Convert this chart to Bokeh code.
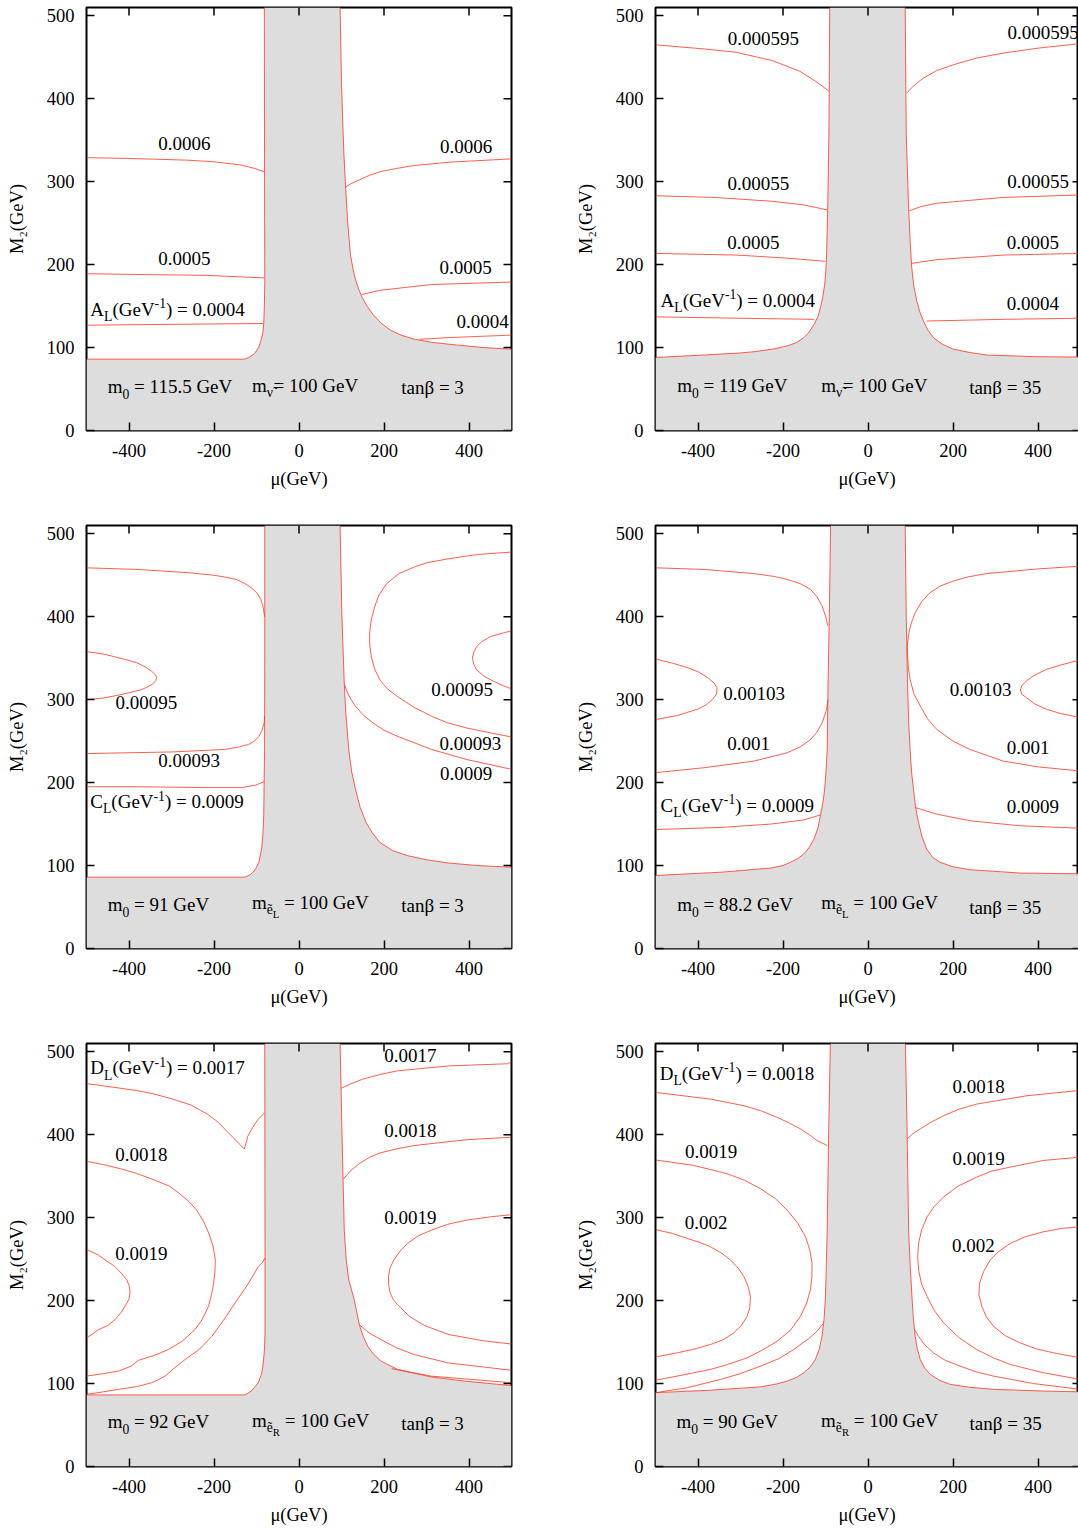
from bokeh.plotting import figure
from bokeh.layouts import column, row
from bokeh.models import Range1d, FixedTicker
from bokeh.core.properties import value
from bokeh.embed import file_html
from bokeh.resources import INLINE

# ---------------- data ----------------
X_TICKS = [-400, -200, 0, 200, 400]
Y_TICKS = [0, 100, 200, 300, 400, 500]
X_TICK_LABELS = ["-400", "-200", "0", "200", "400"]
X_LABEL = "μ(GeV)"
Y_LABEL = "M₂(GeV)"

# Panel A_L, tanb=3
AL3_edge_left = [(-500, 86), (-129, 86), (-118, 88), (-105, 92.5), (-95, 100), (-89.5, 108.5), (-85, 118),
                 (-83, 128.5), (-81.5, 150), (-80.5, 180), (-81, 300), (-81.6, 510)]
AL3_edge_right = [(96.7, 510), (98.5, 460), (100, 420), (102.8, 373), (105.5, 335), (109, 300), (114, 255),
                  (121, 212), (127, 195), (133, 182), (140, 171), (148, 161), (160, 150), (174, 140),
                  (192, 130), (215, 121), (240, 115), (271.5, 110), (310, 106.5), (353, 104), (434, 100),
                  (500, 98)]
AL3_curves = [
    [(-500, 329), (-403, 328), (-265, 326), (-200, 324), (-135, 320), (-105, 316), (-82, 312)],
    [(109, 293), (120, 297), (141.5, 302), (165, 307.5), (190, 312), (230, 316), (271.5, 319.5),
     (353, 323.5), (500, 327.5)],
    [(-500, 189), (-216, 187), (-82, 184)],
    [(148, 164), (190, 169), (312, 176), (500, 179)],
    [(-500, 127), (-297.5, 128), (-84.5, 129)],
    [(284, 110), (353, 112), (500, 115)],
]
AL3_labels = [("0.0006", -270, 343.5), ("0.0006", 393.5, 339.5), ("0.0005", -270, 204),
              ("0.0005", 392, 194), ("0.0004", 432, 129)]
AL3_key = ("A", "0.0004", -491, 143)
AL3_info = ("115.5", "ν", "3", [(-450, 50), (-110.6, 51), (240.6, 49)])

# Panel A_L, tanb=35
AL35_edge_left = [(-500, 88), (-385, 91), (-300, 93.5), (-268, 95), (-220, 98.5), (-190, 102), (-168, 106),
                  (-151, 112), (-138, 119), (-127, 128), (-118, 137), (-112, 148), (-106, 162), (-102, 176),
                  (-99.5, 190), (-98, 204), (-96, 240), (-94.5, 276), (-92, 357), (-90, 510)]
AL35_edge_right = [(87.5, 510), (90, 357), (95, 276), (99, 230), (103, 196), (108, 173), (115, 156),
                   (122, 143), (130.5, 132), (141, 121), (154, 112), (175, 104), (201, 98), (240, 94),
                   (279, 91), (396, 89), (500, 88.5)]
AL35_curves = [
    [(-500, 465), (-385, 460), (-310, 456), (-268, 451), (-225, 446), (-190, 439), (-160, 433),
     (-135, 425), (-112, 417), (-92, 409)],
    [(91.4, 407), (108, 416), (130.5, 425), (162, 434), (201, 441), (255, 449), (318, 455), (400, 461),
     (500, 466.5)],
    [(-500, 283), (-362, 281), (-229, 276.5), (-151, 272), (-96, 266)],
    [(97.7, 265), (125, 270), (162, 274), (318, 281), (500, 284)],
    [(-500, 213.5), (-307, 211.5), (-182, 207.5), (-100, 204)],
    [(103, 201.5), (162, 206), (318, 211.5), (500, 213.5)],
    [(-500, 137), (-307, 135.4), (-127, 134)],
    [(138, 132), (318, 134), (500, 135.4)],
]
AL35_labels = [("0.000595", -246, 469.5), ("0.000595", 412, 477), ("0.00055", -258, 294.5),
               ("0.00055", 400, 297), ("0.0005", -269.5, 224), ("0.0005", 388, 224), ("0.0004", 388, 150)]
AL35_key = ("A", "0.0004", -488, 154)
AL35_info = ("119", "ν", "35", [(-449, 51), (-110, 51), (238, 49)])

# Panel C_L, tanb=3
CL3_edge_left = [(-500, 86), (-127, 86), (-115, 89), (-108, 92), (-102, 96), (-94, 105), (-88, 120),
                 (-85, 137), (-83, 160), (-81, 240), (-80.5, 360), (-80.5, 510)]
CL3_edge_right = [(96.7, 510), (101, 400), (106.5, 320), (110, 285), (117, 240), (124, 213), (133, 192),
                  (144, 170), (158, 152), (173, 139), (190, 128), (220, 118), (255, 112), (300, 107),
                  (353, 103), (420, 100), (500, 98)]
CL3_curves = [
    [(-500, 459), (-379, 457), (-257, 453), (-200, 450), (-175.6, 448), (-148, 445), (-127, 440),
     (-110, 434), (-98, 428), (-90, 421), (-84.5, 412), (-81, 400)],
    [(-81, 280), (-82, 272), (-87, 263), (-94, 256), (-105, 250), (-119, 246), (-145, 242.5),
     (-175.6, 240), (-297.5, 237), (-500, 235)],
    [(-500, 358), (-460, 355), (-436, 352), (-405, 348), (-379, 344), (-360, 339), (-346, 334),
     (-338, 330), (-335, 327), (-337, 323), (-344, 319), (-358, 315), (-371, 312), (-395, 309),
     (-419.5, 306), (-460, 302), (-500, 300)],
    [(-500, 195), (-379, 195), (-216, 194), (-135, 194), (-102, 197), (-82, 201)],
    [(500, 478), (420, 475), (353, 470), (300, 465), (271.5, 460), (235, 452), (206.5, 440), (188, 426),
     (178, 412), (170, 396), (166, 380), (166.5, 366), (170, 352), (178, 337), (190, 324), (208, 313),
     (231, 304), (270, 291), (312, 280), (350, 272), (393.5, 266), (450, 260), (500, 255)],
    [(500, 383), (470, 379), (450, 376), (430, 370), (418, 364), (411, 357), (408, 350), (411, 343),
     (418, 336), (436, 328), (458.5, 322), (480, 317), (500, 313)],
    [(107, 318), (118, 304), (133, 292), (152, 281), (174, 272), (200, 263), (231, 256), (312, 240),
     (393.5, 228), (500, 216)],
]
CL3_labels = [("0.00095", -359, 294), ("0.00093", -258.5, 224), ("0.00095", 384, 309),
              ("0.00093", 403, 244), ("0.0009", 393.5, 208)]
CL3_key = ("C", "0.0009", -491, 174)
CL3_info = ("91", "eL", "3", [(-450, 50), (-110.6, 53), (240.6, 49)])

# Panel C_L, tanb=35
CL35_edge_left = [(-500, 88), (-346, 92), (-229, 97), (-200, 100), (-182, 104), (-165, 108.5), (-151, 114),
                  (-138, 122), (-127, 132), (-118, 145), (-112, 160), (-106, 176), (-102, 192),
                  (-98.5, 215), (-96, 240), (-94, 320), (-91, 400), (-88, 510)]
CL35_edge_right = [(87.5, 510), (90, 400), (93, 320), (96, 270), (99, 240), (102.5, 213), (107, 192),
                   (112, 170), (119, 152), (127, 135), (138, 120), (152, 110), (169.5, 104), (200, 98.5),
                   (240, 95), (357, 91), (500, 90)]
CL35_curves = [
    [(-500, 459), (-385, 457), (-268, 452), (-220, 448.5), (-190, 445), (-160, 440), (-135, 433),
     (-120, 424), (-108, 413), (-100, 401), (-94.5, 389)],
    [(-94, 300), (-98, 287), (-108, 272), (-120, 261), (-135, 252), (-160, 243), (-190, 236),
     (-268, 226), (-385, 218), (-500, 212)],
    [(-500, 349), (-460, 344), (-424, 338.5), (-397, 333), (-377, 326.5), (-362, 320), (-355.5, 314.5),
     (-356, 307), (-365.6, 300.5), (-380, 294), (-401, 288.5), (-448, 281), (-500, 276)],
    [(-500, 143.4), (-346, 146), (-229, 150), (-151, 155), (-112, 161)],
    [(500, 461), (396, 457.5), (279, 452), (235, 448), (201, 443), (170, 437), (146, 429), (126, 418),
     (111, 405), (101, 391), (95, 377), (92.5, 365), (93, 353), (95, 338), (99, 324.5), (108, 307),
     (123, 292.5), (140, 277), (162, 264), (200, 250), (240, 240), (318, 226), (400, 219), (500, 214)],
    [(500, 348), (455, 342), (419.5, 336.5), (390, 329), (372.6, 322.5), (362, 317), (358.6, 311.7),
     (362, 306.5), (372.6, 302.5), (392, 295), (419.5, 288.5), (455, 283), (500, 278.5)],
    [(111, 170), (162, 162), (240, 154), (357, 148), (500, 145)],
]
CL35_labels = [("0.00103", -268, 304.5), ("0.001", -281, 244), ("0.00103", 265, 309),
               ("0.001", 376.5, 239), ("0.0009", 388, 168)]
CL35_key = ("C", "0.0009", -488, 170)
CL35_info = ("88.2", "eL", "35", [(-449, 50), (-110, 53), (238, 47)])

# Panel D_L, tanb=3
DL3_edge_left = [(-500, 86.3), (-127, 86.3), (-112, 91), (-95.8, 101), (-88, 112), (-84, 125), (-81, 143),
                 (-80, 161), (-80, 253), (-80.5, 510)]
DL3_edge_right = [(96.7, 510), (101, 405), (106.5, 285), (111, 250), (117, 225), (130, 201), (142, 171),
                  (151, 157), (161.6, 145), (176, 135), (193, 127), (232, 117), (310.6, 108), (389, 103),
                  (500, 97.5)]
DL3_curves = [
    [(-500, 461.6), (-440, 457.5), (-379, 453), (-340, 449), (-297.5, 443), (-255, 436), (-216, 425),
     (-190, 415), (-167.5, 403), (-148, 393), (-128.7, 382.8), (-124, 391), (-120.7, 398), (-112, 406),
     (-105, 412), (-97, 418), (-82, 426)],
    [(99, 456), (120, 461), (149.6, 467), (190, 472.5), (231, 477), (353, 483), (491, 485.6), (500, 488)],
    [(-500, 368), (-460, 364), (-419.5, 359), (-380, 353), (-338, 345), (-305, 338), (-281, 329),
     (-258, 319), (-240.7, 309), (-224, 295), (-212, 281), (-202, 265), (-197, 250), (-197.6, 237),
     (-201, 220), (-206, 207), (-213, 193), (-228, 177), (-245, 165), (-275, 151), (-307.5, 141),
     (-340, 134), (-378, 128), (-395, 121), (-425, 115), (-460, 112), (-500, 109)],
    [(-500, 261.6), (-472, 255), (-450, 247), (-433, 241), (-418, 233), (-405, 225), (-399, 217),
     (-397.6, 209), (-400, 202), (-405, 197), (-418, 186), (-433, 177), (-450, 170), (-472, 165),
     (-485, 160), (-500, 155)],
    [(-80, 251.4), (-86, 246), (-95.8, 241), (-120, 220), (-150.6, 197), (-178, 176), (-205, 157),
     (-235, 141), (-268, 129), (-295, 118), (-315, 109), (-330, 105), (-346.6, 101), (-380, 96.5),
     (-425, 93), (-460, 90), (-500, 87)],
    [(105, 347), (120, 356), (141.5, 365), (165, 372.5), (190, 378), (230, 383), (271.5, 387),
     (393.5, 394), (500, 397)],
    [(500, 303.6), (450, 301), (393.5, 297), (350, 292), (312, 285), (280, 278), (255, 269), (237, 259),
     (223, 249), (214, 239), (210.6, 229), (211, 219), (214.6, 209), (222, 201), (232, 195), (260, 181),
     (295, 170), (353, 159), (434, 151.6), (500, 147.6)],
    [(142, 171), (165, 161), (193, 153), (230, 143), (271, 135), (350, 125), (500, 116)],
    [(218, 118), (310.6, 109), (500, 101)],
]
DL3_labels = [("0.0017", 262, 492), ("0.0018", -371, 373.6), ("0.0018", 262, 401.6),
              ("0.0019", -371, 253.6), ("0.0019", 262, 297.6)]
DL3_key = ("D", "0.0017", -491, 477.6)
DL3_info = ("92", "eR", "3", [(-450, 51), (-110.6, 53), (240.6, 49)])

# Panel D_L, tanb=35
DL35_edge_left = [(-500, 89), (-371, 92), (-253, 96), (-215, 99.5), (-190, 103), (-168, 107.5), (-151, 113),
                  (-136, 120), (-124, 129), (-115, 141), (-108, 157), (-103, 180), (-100, 205), (-98, 245),
                  (-96, 285), (-92.5, 405), (-88.6, 510)]
DL35_edge_right = [(88, 510), (92, 405), (95.6, 285), (99, 245), (103.4, 205), (106.5, 180), (111, 157),
                   (116, 142), (123, 129), (133, 119), (146.6, 111), (168, 104), (193.6, 99), (240, 95.5),
                   (295.5, 93), (413, 91), (500, 90)]
DL35_curves = [
    [(-500, 451), (-371, 443), (-292, 435), (-250, 428.5), (-214, 421), (-185, 414), (-159, 407),
     (-138, 400), (-120, 393), (-96, 387)],
    [(92, 395), (105, 401), (123, 407), (148, 415), (178, 423), (215, 431), (256, 437), (374, 447),
     (500, 453.5)],
    [(-500, 369.6), (-410, 363), (-331.5, 353), (-290, 345), (-253, 335), (-218, 323), (-190, 309),
     (-165, 293), (-147, 277), (-137, 261), (-131.7, 245), (-132, 229), (-135.6, 213), (-145, 196),
     (-159, 181), (-183, 164), (-214, 151), (-250, 140), (-284.5, 131), (-330, 123), (-371, 117),
     (-449, 109), (-500, 104)],
    [(-500, 285.6), (-460, 281), (-425.5, 275), (-395, 270), (-371, 265), (-345, 257.5), (-323.7, 249),
     (-305, 239), (-292, 229), (-282, 217), (-276.6, 205), (-278, 192), (-284.5, 181), (-298, 170),
     (-316, 161), (-340, 153), (-371, 147), (-410, 141.5), (-449, 137), (-500, 132)],
    [(-106, 172), (-120, 163), (-140, 154), (-175, 141), (-210, 130), (-253, 121), (-300, 112),
     (-347, 105), (-425.5, 95), (-500, 89)],
    [(500, 373), (413, 369), (334.6, 361), (290, 356), (256, 349), (212, 338), (178, 325), (155, 313),
     (139, 301), (126, 285), (119, 269), (117, 253), (119, 237), (126, 220), (139, 205), (156, 188),
     (178, 173), (215, 155), (256, 141), (295, 131), (334.6, 123), (413, 113), (500, 105)],
    [(500, 289), (455, 287), (413, 283), (370, 277), (334.6, 269), (307, 259), (287.6, 249), (272, 235),
     (262.5, 221), (261, 207), (268, 193), (279, 180), (295.5, 169), (322, 158), (358, 149), (395, 142),
     (436.5, 137), (500, 131)],
    [(109.5, 165), (119, 157), (133, 147), (154, 137), (182, 128), (217, 121), (255, 114), (295.5, 109),
     (389.5, 100), (500, 93)],
]
DL35_labels = [("0.0018", 260, 455), ("0.0019", -369, 377), ("0.0019", 260, 368),
               ("0.002", -381, 291), ("0.002", 248, 264)]
DL35_key = ("D", "0.0018", -490, 471)
DL35_info = ("90", "eR", "35", [(-450.6, 51), (-110.5, 53), (239, 49)])

# ---------------- styling ----------------
FONT = "Liberation Serif"
LABEL_PX = 19.0
LABEL_DY = -2.5
TICK_PX = "18.5px"
RED = "#ff3322"
RED_W = 0.8
GREY = "#dddddd"
PX_PER_MU = 0.425

EM = {" ": 0.25, "(": 0.333, ")": 0.333, "=": 0.564, "-": 0.333, ".": 0.25, "A": 0.722, "C": 0.667,
      "D": 0.722, "G": 0.722, "L": 0.611, "M": 0.889, "V": 0.722, "R": 0.667, "e": 0.444, "m": 0.778,
      "t": 0.278, "a": 0.444, "n": 0.5, "ν": 0.5, "β": 0.5, "ẽ": 0.444, "\u0303": 0.0}
for d in "0123456789":
    EM[d] = 0.5

# relative font sizes and vertical shifts (fraction of the label size; text is placed by its middle)
SIZE = {"n": 1.0, "sub": 0.72, "sup": 0.72, "subsub": 0.56}
SHIFT = {"n": 0.0, "sub": 0.38, "sup": -0.32, "subsub": 0.67}


def width(s, px):
    return sum(EM.get(c, 0.5) for c in s) * px


def rich(p, x, y, parts):
    off = 0.0
    for s, k in parts:
        fs = LABEL_PX * SIZE[k]
        lead = len(s) - len(s.lstrip(" "))
        off += lead * EM[" "] * fs
        s = s.lstrip(" ")
        p.text(x=[x], y=[y], text=[s], x_offset=off, y_offset=LABEL_DY + SHIFT[k] * LABEL_PX,
               text_font=value(FONT), text_font_size=f"{fs:.2f}px", text_color="black",
               text_align="left", text_baseline="middle")
        off += width(s, fs)


def panel(edge_left, edge_right, curves, labels, key, info, fig_w, fig_h, b_top, frame_h, b_left, b_right,
          y_end, x_end):
    p = figure(width=fig_w, height=fig_h, x_range=Range1d(-500, x_end), y_range=Range1d(0, y_end),
               output_backend="svg", toolbar_location=None,
               min_border_left=b_left, min_border_right=b_right, min_border_top=b_top,
               min_border_bottom=fig_h - b_top - frame_h)
    p.grid.visible = False
    p.background_fill_color = "white"
    p.border_fill_color = "white"
    p.outline_line_color = "black"
    p.outline_line_width = 2
    for ax in (p.xaxis[0], p.yaxis[0]):
        ax.major_tick_in = 8
        ax.major_tick_out = 0
        ax.minor_tick_in = 0
        ax.minor_tick_out = 0
        ax.major_tick_line_width = 1.5
        ax.axis_line_color = None
        ax.major_label_text_font = FONT
        ax.major_label_text_font_size = TICK_PX
        ax.major_label_text_color = "black"
        ax.axis_label_text_font = FONT
        ax.axis_label_text_font_size = TICK_PX
        ax.axis_label_text_font_style = "normal"
        ax.axis_label_text_color = "black"
    p.xaxis.ticker = FixedTicker(ticks=X_TICKS)
    p.yaxis.ticker = FixedTicker(ticks=Y_TICKS)
    p.xaxis.major_label_overrides = {t: s for t, s in zip(X_TICKS, X_TICK_LABELS)}
    p.xaxis.major_label_standoff = 13
    p.xaxis.axis_label_standoff = 9
    p.yaxis.major_label_standoff = 12
    p.yaxis.axis_label_standoff = 17
    p.xaxis.axis_label = X_LABEL
    p.yaxis.axis_label = Y_LABEL

    # excluded (grey) region bounded by the edge contour
    outline = edge_left + edge_right + [(500, 0), (-500, 0)]
    p.patch([q[0] for q in outline], [q[1] for q in outline], fill_color=GREY, line_color=None)
    for side in (edge_left, edge_right):
        p.line([q[0] for q in side], [q[1] for q in side], line_color=RED, line_width=RED_W)
    for c in curves:
        p.line([q[0] for q in c], [q[1] for q in c], line_color=RED, line_width=RED_W)

    # contour value labels
    p.text(x=[l[1] for l in labels], y=[l[2] for l in labels], text=[l[0] for l in labels],
           y_offset=LABEL_DY, text_font=value(FONT), text_font_size=f"{LABEL_PX}px",
           text_color="black", text_align="center", text_baseline="middle")
    sym, val, kx, ky = key
    rich(p, kx, ky, [(sym, "n"), ("L", "sub"), ("(GeV", "n"), ("-1", "sup"), (") = " + val, "n")])
    m0, sf, tb, pos = info
    rich(p, pos[0][0], pos[0][1], [("m", "n"), ("0", "sub"), (" = " + m0 + " GeV", "n")])
    if sf == "ν":
        rich(p, pos[1][0], pos[1][1], [("m", "n"), ("ν\u0303", "sub"), ("= 100 GeV", "n")])
    else:
        rich(p, pos[1][0], pos[1][1], [("m", "n"), ("ẽ", "sub"), (sf[1], "subsub"), (" = 100 GeV", "n")])
    rich(p, pos[2][0], pos[2][1], [("tanβ = " + tb, "n")])

    # mirror ticks on top and right edges (gnuplot style)
    ypx = frame_h / y_end
    p.segment(x0=X_TICKS, y0=[y_end] * len(X_TICKS), x1=X_TICKS, y1=[y_end - 8 / ypx] * len(X_TICKS),
              line_color="black", line_width=1.5)
    p.segment(x0=[500] * len(Y_TICKS), y0=Y_TICKS, x1=[500 - 8 / PX_PER_MU] * len(Y_TICKS), y1=Y_TICKS,
              line_color="black", line_width=1.5)
    return p


LW, RW = 570, 508
L_BL, L_BR = 86, 59
R_BL, R_BR = 85, 0
R_XEND = -500 + (RW - R_BL - R_BR) / PX_PER_MU
FRAME_H = 423

rows_spec = [
    ((AL3_edge_left, AL3_edge_right, AL3_curves, AL3_labels, AL3_key, AL3_info),
     (AL35_edge_left, AL35_edge_right, AL35_curves, AL35_labels, AL35_key, AL35_info), 524, 7),
    ((CL3_edge_left, CL3_edge_right, CL3_curves, CL3_labels, CL3_key, CL3_info),
     (CL35_edge_left, CL35_edge_right, CL35_curves, CL35_labels, CL35_key, CL35_info), 518, 1),
    ((DL3_edge_left, DL3_edge_right, DL3_curves, DL3_labels, DL3_key, DL3_info),
     (DL35_edge_left, DL35_edge_right, DL35_curves, DL35_labels, DL35_key, DL35_info), 488, 1),
]

rows = []
for lspec, rspec, fh, bt in rows_spec:
    pl = panel(*lspec, LW, fh, bt, FRAME_H, L_BL, L_BR, 510, 500)
    pr = panel(*rspec, RW, fh, bt, FRAME_H, R_BL, R_BR, 510, R_XEND)
    rows.append(row(pl, pr))

layout = column(*rows)
open("out.html", "w").write(file_html(layout, INLINE))
